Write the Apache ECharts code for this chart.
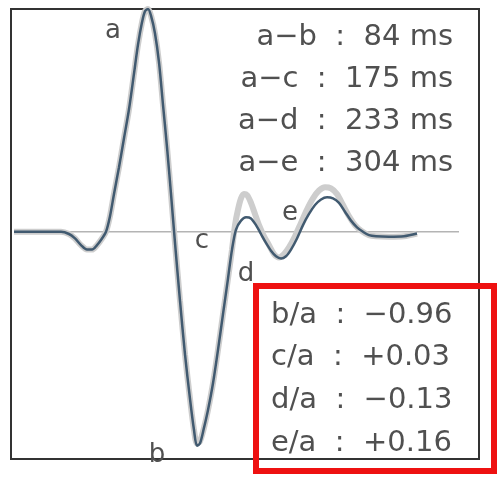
<!DOCTYPE html>
<html>
<head>
<meta charset="utf-8">
<script src="https://cdn.jsdelivr.net/npm/echarts@6/dist/echarts.min.js"></script>
<style>
  html, body { margin: 0; padding: 0; background: #fff; }
  #main { width: 498px; height: 478px; }
</style>
</head>
<body>
<div id="main"></div>
<script>
// single trace (dark) - x in samples, y normalised to peak a
var darkX = [3, 30, 50, 58, 64, 70, 76, 81, 86, 91, 95, 99, 103, 108, 113, 118, 123, 127, 131, 134, 137, 140, 144, 148, 152, 156, 160, 164, 169, 174, 179, 183, 186, 189, 193, 197, 202, 207, 212, 217, 221, 225, 230, 235, 240, 245, 250, 255, 260, 265, 270, 275, 280, 286, 292, 298, 304, 310, 316, 322, 328, 334, 340, 346, 352, 358, 365, 378, 393, 406];
var darkY = [0, 0, 0, -0.01, -0.03, -0.06, -0.08, -0.08, -0.06, -0.03, 0, 0.07, 0.17, 0.29, 0.42, 0.55, 0.71, 0.84, 0.94, 0.99, 1.0, 0.97, 0.89, 0.76, 0.57, 0.38, 0.17, -0.05, -0.31, -0.55, -0.75, -0.89, -0.96, -0.95, -0.88, -0.80, -0.68, -0.53, -0.37, -0.21, -0.08, 0.01, 0.05, 0.065, 0.06, 0.03, -0.01, -0.05, -0.085, -0.11, -0.12, -0.11, -0.08, -0.03, 0.03, 0.08, 0.12, 0.145, 0.155, 0.15, 0.13, 0.09, 0.05, 0.02, 0, -0.015, -0.02, -0.022, -0.02, -0.008];

// mean trace (gray band)
var grayX = [3, 30, 50, 58, 64, 70, 76, 81, 86, 91, 95, 99, 103, 108, 113, 118, 123, 127, 131, 134, 137, 140, 144, 148, 152, 156, 160, 164, 169, 174, 179, 183, 186, 189, 193, 197, 202, 207, 212, 217, 221, 224, 227, 230, 233, 236, 240, 244, 248, 253, 258, 263, 268, 273, 278, 284, 290, 296, 302, 308, 314, 320, 326, 332, 338, 344, 350, 358, 365, 378, 393, 406];
var grayY = [0, 0, 0, -0.01, -0.03, -0.06, -0.08, -0.08, -0.06, -0.03, 0, 0.07, 0.17, 0.29, 0.42, 0.55, 0.71, 0.84, 0.94, 0.99, 1.0, 0.97, 0.89, 0.76, 0.57, 0.38, 0.17, -0.05, -0.31, -0.55, -0.75, -0.89, -0.95, -0.94, -0.88, -0.80, -0.68, -0.53, -0.37, -0.21, -0.08, 0.03, 0.10, 0.15, 0.17, 0.165, 0.13, 0.08, 0.03, -0.02, -0.06, -0.10, -0.115, -0.10, -0.07, -0.02, 0.04, 0.10, 0.15, 0.185, 0.20, 0.195, 0.17, 0.12, 0.07, 0.03, 0.005, -0.015, -0.02, -0.022, -0.02, -0.008];

var baseX = [3, 448];
var baseY = [0, 0];

var intervalText = ['a\u2212b  :  84 ms', 'a\u2212c  :  175 ms', 'a\u2212d  :  233 ms', 'a\u2212e  :  304 ms'];
var ratioText = ['b/a  :  \u22120.96', 'c/a  :  +0.03', 'd/a  :  \u22120.13', 'e/a  :  +0.16'];
var pointNames = ['a', 'b', 'c', 'd', 'e'];

function pairs(xs, ys) {
  var out = [];
  for (var i = 0; i < xs.length; i++) out.push([xs[i], ys[i]]);
  return out;
}

var fontFam = "'DejaVu Sans', 'Noto Sans CJK KR', sans-serif";
var txtColor = '#505050';

var graphics = [];
// interval block, right aligned
var topRows = [37, 79, 121, 163];
for (var i = 0; i < intervalText.length; i++) {
  graphics.push({
    type: 'text', x: 453, y: topRows[i], z: 10,
    style: { text: intervalText[i], font: '29px ' + fontFam, fill: txtColor, textAlign: 'right', textVerticalAlign: 'middle' }
  });
}
// ratio block
var botRows = [315, 357, 400, 443];
for (var i = 0; i < ratioText.length; i++) {
  graphics.push({
    type: 'text', x: 271, y: botRows[i], z: 10,
    style: { text: ratioText[i], font: '29px ' + fontFam, fill: txtColor, textAlign: 'left', textVerticalAlign: 'middle' }
  });
}
// point labels
var labelPos = [[113, 31], [157, 455], [202, 241], [246, 274], [290, 213]];
for (var i = 0; i < pointNames.length; i++) {
  graphics.push({
    type: 'text', x: labelPos[i][0], y: labelPos[i][1], z: 10,
    style: { text: pointNames[i], font: '26px ' + fontFam, fill: txtColor, textAlign: 'center', textVerticalAlign: 'middle' }
  });
}
// red highlight box
graphics.push({
  type: 'rect', z: 20,
  shape: { x: 256, y: 286, width: 238, height: 185 },
  style: { fill: 'none', stroke: '#ee1111', lineWidth: 6 }
});

var option = {
  animation: false,
  backgroundColor: '#fff',
  grid: {
    left: 11, top: 9, right: 19, bottom: 19,
    show: true, borderColor: '#333', borderWidth: 2, backgroundColor: 'transparent'
  },
  xAxis: {
    type: 'value', min: 0, max: 468,
    axisLine: { show: false }, axisTick: { show: false }, axisLabel: { show: false }, splitLine: { show: false }
  },
  yAxis: {
    type: 'value', min: -1.02, max: 1.0,
    axisLine: { show: false }, axisTick: { show: false }, axisLabel: { show: false }, splitLine: { show: false }
  },
  series: [
    {
      name: 'baseline', type: 'line', data: pairs(baseX, baseY), symbol: 'none', silent: true,
      lineStyle: { color: '#b4b4b4', width: 1.5 }, z: 1
    },
    {
      name: 'mean', type: 'line', data: pairs(grayX, grayY), symbol: 'none', smooth: 0.3,
      lineStyle: { color: '#cdcdcd', width: 6 }, z: 2
    },
    {
      name: 'trace', type: 'line', data: pairs(darkX, darkY), symbol: 'none', smooth: 0.3,
      lineStyle: { color: '#415a70', width: 2.5 }, z: 3
    }
  ],
  graphic: graphics
};

var chart = echarts.init(document.getElementById('main'));
chart.setOption(option);
</script>
</body>
</html>
